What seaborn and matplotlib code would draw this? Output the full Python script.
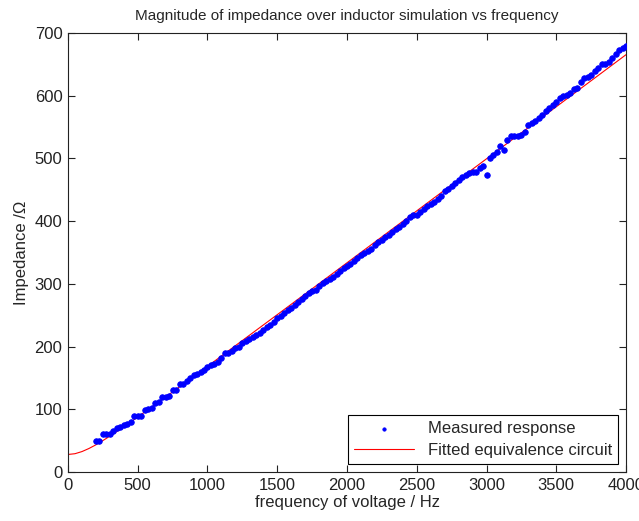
import numpy as np
import pandas as pd
import matplotlib
matplotlib.use("Agg")
import matplotlib.pyplot as plt
import seaborn as sns

# Measured response: frequencies 200..4000 Hz every 25 Hz
freq_measured = list(range(200, 4001, 25))
impedance_measured = [
    50, 50, 60, 61, 61, 65, 70, 72, 75, 77,
    80, 89, 89, 90, 99, 100, 102, 110, 111, 119,
    120, 121, 130, 131, 140, 141, 145, 150, 154, 156,
    160, 162, 168, 170, 172, 175, 182, 189, 190, 193,
    198, 200, 205, 209, 212, 216, 219, 222, 227, 231,
    235, 239, 245, 249, 253, 258, 262, 267, 271, 276,
    281, 285, 288, 290, 297, 301, 305, 308, 311, 316,
    320, 325, 328, 331, 337, 341, 346, 349, 352, 356,
    362, 366, 370, 374, 378, 382, 387, 391, 396, 400,
    406, 409, 409, 415, 420, 424, 428, 431, 436, 440,
    448, 452, 456, 461, 465, 470, 473, 477, 478, 479,
    484, 488, 474, 500, 505, 510, 520, 514, 530, 535,
    536, 535, 538, 542, 554, 557, 560, 565, 570, 576,
    580, 585, 590, 596, 600, 601, 604, 610, 612, 622,
    629, 630, 633, 640, 644, 650, 651, 653, 660, 666,
    673, 676, 680,
]

# Fitted equivalence circuit curve
freq_fit = [0, 50, 100, 150, 200, 250, 300, 350, 400, 500, 600, 700, 800, 900, 1000,
            1250, 1500, 1750, 2000, 2250, 2500, 2750, 3000, 3250, 3500, 3750, 4000]
impedance_fit = [28.0, 29.2, 32.6, 37.5, 43.4, 50.1, 57.2, 64.5, 72.1, 87.7, 103.6,
                 119.6, 135.9, 152.2, 168.5, 209.7, 250.9, 292.2, 333.6, 375.0,
                 416.4, 457.9, 499.4, 540.9, 582.4, 623.9, 665.4]

x_ticks = [0, 500, 1000, 1500, 2000, 2500, 3000, 3500, 4000]
y_ticks = [0, 100, 200, 300, 400, 500, 600, 700]

title = "Magnitude of impedance over inductor simulation vs frequency"
xlabel = "frequency of voltage / Hz"
ylabel = "Impedance /Ω"
legend_labels = ["Measured response", "Fitted equivalence circuit"]

sns.set_style("ticks")
plt.rcParams['font.family'] = ['Liberation Sans', 'DejaVu Sans']
plt.rcParams['font.size'] = 12

df_meas = pd.DataFrame({"f": freq_measured, "z": impedance_measured})
df_fit = pd.DataFrame({"f": freq_fit, "z": impedance_fit})

fig = plt.figure(figsize=(6.39, 5.21), dpi=100)
ax = fig.add_axes([0.1064, 0.094, 0.8733, 0.8427])

sns.scatterplot(data=df_meas, x="f", y="z", ax=ax, color=(0, 0, 1), marker="o",
                s=16, edgecolor=(0, 0, 1), linewidth=0.6, label=legend_labels[0], zorder=3)
sns.lineplot(data=df_fit, x="f", y="z", ax=ax, color=(1, 0, 0), linewidth=0.8,
             label=legend_labels[1], zorder=2)

ax.set_xlim(0, 4000)
ax.set_ylim(0, 700)
ax.set_xticks(x_ticks)
ax.set_yticks(y_ticks)
ax.tick_params(direction="in", length=5, width=0.8, top=True, right=True,
               labelsize=12, colors="#222222", pad=4)
for sp in ax.spines.values():
    sp.set_visible(True)
    sp.set_color("#222222")
    sp.set_linewidth(0.8)

ax.set_title(title, fontsize=11, pad=9)
ax.set_xlabel(xlabel, fontsize=12, labelpad=2)
ax.set_ylabel(ylabel, fontsize=12, labelpad=4)

leg = ax.legend(loc="lower right", frameon=True, fancybox=False, edgecolor="black",
                framealpha=1, fontsize=12, borderaxespad=0.5, handlelength=3.6,
                borderpad=0.35, labelspacing=0.4, markerscale=0.6)
leg.get_frame().set_linewidth(0.8)

fig.savefig("out.png", dpi=100)
